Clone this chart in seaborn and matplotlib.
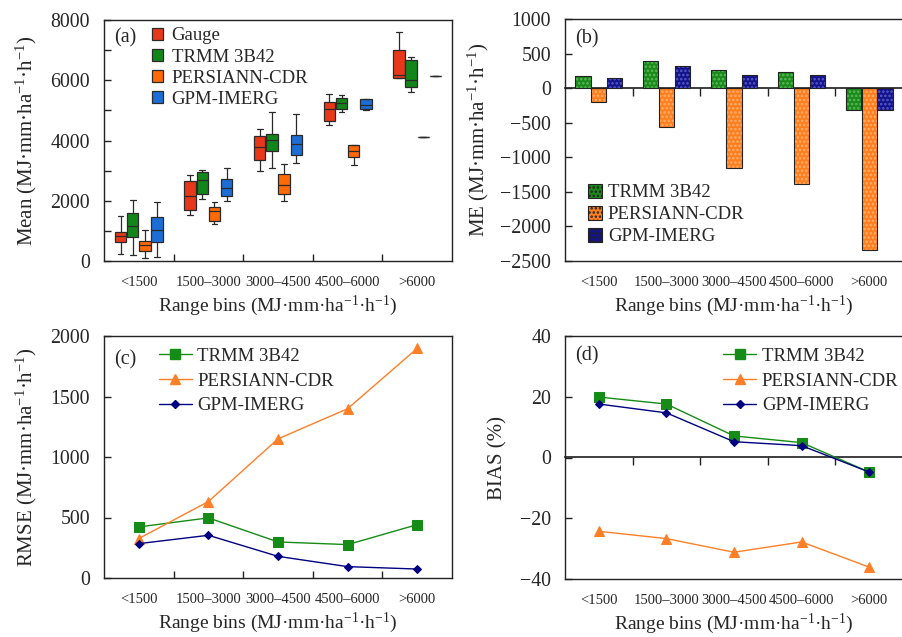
import numpy as np
import pandas as pd
import matplotlib
matplotlib.use("Agg")
import matplotlib.pyplot as plt
import seaborn as sns
from matplotlib.patches import Patch, Rectangle
from matplotlib.ticker import MultipleLocator, FixedLocator

# ---------------------------------------------------------------- data
bins = ["<1500", "1500\u20133000", "3000\u20134500", "4500\u20136000", ">6000"]
products = ["Gauge", "TRMM 3B42", "PERSIANN-CDR", "GPM-IMERG"]
satellites = ["TRMM 3B42", "PERSIANN-CDR", "GPM-IMERG"]

# five-number summaries (min, Q1, median, Q3, max) of mean erosivity per bin
gauge_stats = [[233, 621, 832, 977, 1498],
               [1532, 1698, 2164, 2641, 2863],
               [2974, 3363, 3774, 4140, 4384],
               [4506, 4661, 5050, 5272, 5527],
               [6060, 6060, 6180, 7010, 7600]]
trmm_stats = [[200, 788, 1165, 1609, 2031],
              [2053, 2220, 2697, 2952, 3030],
              [3085, 3640, 4007, 4217, 4950],
              [4950, 5050, 5250, 5416, 5494],
              [5595, 5760, 6000, 6660, 6770]]
persiann_stats = [[111, 344, 533, 677, 1032],
                  [1221, 1343, 1676, 1787, 1964],
                  [1976, 2220, 2530, 2897, 3207],
                  [3196, 3441, 3640, 3840, 3862],
                  [4130]]
gpm_stats = [[144, 621, 1032, 1465, 1964],
             [1976, 2142, 2408, 2719, 3085],
             [3252, 3518, 3896, 4195, 4883],
             [5006, 5061, 5194, 5383, 5394],
             [6150]]

# mean error (MJ mm ha-1 h-1)
me_trmm = [169, 397, 261, 227, -315]
me_persiann = [-194, -566, -1152, -1389, -2338]
me_gpm = [140, 324, 189, 194, -315]

# root mean square error (MJ mm ha-1 h-1)
rmse_trmm = [422, 497, 298, 276, 441]
rmse_persiann = [326, 632, 1150, 1399, 1898]
rmse_gpm = [284, 353, 179, 94, 74]

# relative bias (%)
bias_trmm = [19.9, 17.6, 7.1, 4.9, -4.8]
bias_persiann = [-24.3, -26.7, -31.2, -27.8, -36.1]
bias_gpm = [17.6, 14.7, 5.2, 3.9, -4.8]

# ---------------------------------------------------------------- tables
rows = []
for name, stats in zip(products, [gauge_stats, trmm_stats, persiann_stats, gpm_stats]):
    for b, vals in zip(bins, stats):
        for v in vals:
            rows.append((b, name, v))
df_box = pd.DataFrame(rows, columns=["bin", "product", "value"])


def long_table(series):
    out = []
    for name, vals in zip(satellites, series):
        for b, v in zip(bins, vals):
            out.append((b, name, v))
    return pd.DataFrame(out, columns=["bin", "product", "value"])


df_me = long_table([me_trmm, me_persiann, me_gpm])
df_rmse = long_table([rmse_trmm, rmse_persiann, rmse_gpm])
df_bias = long_table([bias_trmm, bias_persiann, bias_gpm])

# ---------------------------------------------------------------- style
sns.set_theme(style="white")
plt.rcParams["font.family"] = ["Liberation Serif", "DejaVu Serif"]
plt.rcParams["mathtext.fontset"] = "custom"
plt.rcParams["mathtext.rm"] = "Liberation Serif"
plt.rcParams["mathtext.it"] = "Liberation Serif:italic"
plt.rcParams["axes.unicode_minus"] = True
plt.rcParams["hatch.linewidth"] = 1.2

box_colors = {"Gauge": "#E8381A", "TRMM 3B42": "#12861A",
              "PERSIANN-CDR": "#FF6A08", "GPM-IMERG": "#1C6ED6"}
bar_colors = {"TRMM 3B42": "#1A8A1A", "PERSIANN-CDR": "#FF7F1E", "GPM-IMERG": "#14148A"}
bar_dots = {"TRMM 3B42": "#5DBA5D", "PERSIANN-CDR": "#FFB070", "GPM-IMERG": "#5A5ACF"}
line_colors = {"TRMM 3B42": "#158C15", "PERSIANN-CDR": "#FF7F27", "GPM-IMERG": "#000080"}

unit = "(MJ\u00b7mm\u00b7ha$^{-1}$\u00b7h$^{-1}$)"
xlabel = "Range bins " + unit
TICK_FS = 14.3
XTICK_FS = 10.5
XLABEL_FS = 14
YLABEL_FS = 15
PANEL_FS = 14.5
LEG_FS = 13.5

fig = plt.figure(figsize=(9.02, 6.37), dpi=100)
W, H = 902.0, 637.0


def axes_px(left, top, right, bottom):
    return fig.add_axes([left / W, 1 - bottom / H, (right - left) / W, (bottom - top) / H])


ax_a = axes_px(104, 20, 452, 261)
ax_b = axes_px(565, 19, 903, 261)
ax_c = axes_px(104, 336, 452, 578)
ax_d = axes_px(565, 336, 903, 579)

boundaries = [0.5, 1.5, 2.5, 3.5]


def frame(ax):
    for s in ax.spines.values():
        s.set_visible(True)
        s.set_color("#222222")
        s.set_linewidth(1.0)
    ax.set_facecolor("white")
    ax.set_xlim(-0.5, 4.5)
    ax.set_xticks(range(len(bins)))
    ax.set_xticklabels(bins, fontsize=XTICK_FS)
    ax.tick_params(axis="x", which="major", length=0, pad=11)
    ax.tick_params(axis="y", which="both", direction="in", length=5, width=1.0,
                   labelsize=TICK_FS, pad=10, left=True, color="#222222")
    ax.set_xlabel(xlabel, fontsize=XLABEL_FS, labelpad=3)


def zero_axis(ax, frac):
    sec = ax.secondary_xaxis(frac)
    sec.set_xticks(boundaries)
    sec.set_xticklabels([])
    sec.tick_params(axis="x", direction="in", length=6, width=1.0, color="#222222")
    sec.spines["bottom"].set_color("#222222")
    sec.spines["bottom"].set_linewidth(1.0)


# ---------------------------------------------------------------- (a) boxes
sns.boxplot(data=df_box, x="bin", y="value", hue="product", order=bins,
            hue_order=products, palette=box_colors, saturation=1, whis=np.inf,
            width=0.7, gap=0.06, linewidth=0.9, linecolor="#2a2a2a", ax=ax_a)
frame(ax_a)
ax_a.set_ylim(0, 8000)
ax_a.yaxis.set_major_locator(MultipleLocator(2000))
ax_a.yaxis.set_minor_locator(MultipleLocator(1000))
ax_a.xaxis.set_minor_locator(FixedLocator(boundaries))
ax_a.tick_params(axis="x", which="minor", direction="in", length=5, width=1.0,
                 bottom=True, color="#222222")
ax_a.set_ylabel("Mean " + unit, fontsize=YLABEL_FS, labelpad=8)
h, l = ax_a.get_legend_handles_labels()
ax_a.legend(h, l, loc="upper left", bbox_to_anchor=(0.115, 1.0), frameon=False,
            fontsize=LEG_FS, handlelength=0.62, handleheight=0.62,
            handletextpad=0.45, labelspacing=0.22, borderaxespad=0.0)
ax_a.text(0.03, 0.925, "(a)", transform=ax_a.transAxes, fontsize=PANEL_FS, va="center")

# ---------------------------------------------------------------- (b) bars
sns.barplot(data=df_me, x="bin", y="value", hue="product", order=bins,
            hue_order=satellites, palette=bar_colors, saturation=1, width=0.7,
            gap=0.04, errorbar=None, ax=ax_b, legend=False)
n = len(bins)
for i, name in enumerate(satellites):
    for p in ax_b.patches[i * n:(i + 1) * n]:
        p.set_hatch("....")
        if hasattr(p, "set_hatchcolor"):
            p.set_hatchcolor(bar_dots[name])
            p.set_edgecolor("#222222")
            p.set_linewidth(0.8)
        else:
            p.set_edgecolor(bar_dots[name])
            p.set_linewidth(0)
            ax_b.add_patch(Rectangle(p.get_xy(), p.get_width(), p.get_height(),
                                     fill=False, ec="#222222", lw=0.8, zorder=p.get_zorder() + 0.1))
frame(ax_b)
ax_b.set_ylim(-2500, 1000)
ax_b.yaxis.set_major_locator(MultipleLocator(500))
ax_b.set_ylabel("ME " + unit, fontsize=YLABEL_FS, labelpad=7)
zero_axis(ax_b, 2500 / 3500)
leg_h = []
for name in satellites:
    ph = Patch(facecolor=bar_colors[name], hatch="....", linewidth=0.8, edgecolor="#222222")
    if hasattr(ph, "set_hatchcolor"):
        ph.set_hatchcolor(bar_dots[name])
    leg_h.append(ph)
ax_b.legend(leg_h, satellites, loc="lower left", bbox_to_anchor=(0.03, 0.01),
            frameon=False, fontsize=LEG_FS, handlelength=0.75, handleheight=0.75,
            handletextpad=0.3, labelspacing=0.25, borderaxespad=0.3)
ax_b.text(0.03, 0.92, "(b)", transform=ax_b.transAxes, fontsize=PANEL_FS, va="center")

# ---------------------------------------------------------------- (c) / (d) lines
marker_map = {"TRMM 3B42": ("s", 6.5), "PERSIANN-CDR": ("^", 7.0), "GPM-IMERG": ("D", 4.5)}


def lines(ax, df):
    sns.pointplot(data=df, x="bin", y="value", hue="product", order=bins,
                  hue_order=satellites, palette=line_colors,
                  markers=[marker_map[s][0] for s in satellites], linestyles="-",
                  errorbar=None, linewidth=1.0, markersize=6, ax=ax, legend=False)
    handles = []
    for line, name in zip(ax.lines[:len(satellites)], satellites):
        line.set_markersize(marker_map[name][1])
        line.set_markeredgecolor(line_colors[name])
        line.set_linewidth(1.0)
        handles.append(plt.Line2D([], [], color=line_colors[name], lw=1.0,
                                  marker=marker_map[name][0],
                                  markersize=marker_map[name][1]))
    return handles


hc = lines(ax_c, df_rmse)
frame(ax_c)
ax_c.set_ylim(0, 2000)
ax_c.yaxis.set_major_locator(MultipleLocator(500))
ax_c.xaxis.set_minor_locator(FixedLocator(boundaries))
ax_c.tick_params(axis="x", which="minor", direction="in", length=5, width=1.0,
                 bottom=True, color="#222222")
ax_c.set_ylabel("RMSE " + unit, fontsize=YLABEL_FS, labelpad=8)
ax_c.legend(hc, satellites, loc="upper left", bbox_to_anchor=(0.12, 1.005),
            frameon=False, fontsize=LEG_FS, handlelength=1.75, handletextpad=0.3,
            labelspacing=0.4, borderaxespad=0.3)
ax_c.text(0.03, 0.9, "(c)", transform=ax_c.transAxes, fontsize=PANEL_FS, va="center")

hd = lines(ax_d, df_bias)
frame(ax_d)
ax_d.set_ylim(-40, 40)
ax_d.yaxis.set_major_locator(MultipleLocator(20))
ax_d.set_ylabel("BIAS (%)", fontsize=YLABEL_FS, labelpad=9)
zero_axis(ax_d, 0.5)
ax_d.legend(hd, satellites, loc="upper left", bbox_to_anchor=(0.43, 1.005),
            frameon=False, fontsize=LEG_FS, handlelength=1.75, handletextpad=0.3,
            labelspacing=0.4, borderaxespad=0.3)
ax_d.text(0.03, 0.92, "(d)", transform=ax_d.transAxes, fontsize=PANEL_FS, va="center")

fig.savefig("out.png", dpi=100, facecolor="white")
